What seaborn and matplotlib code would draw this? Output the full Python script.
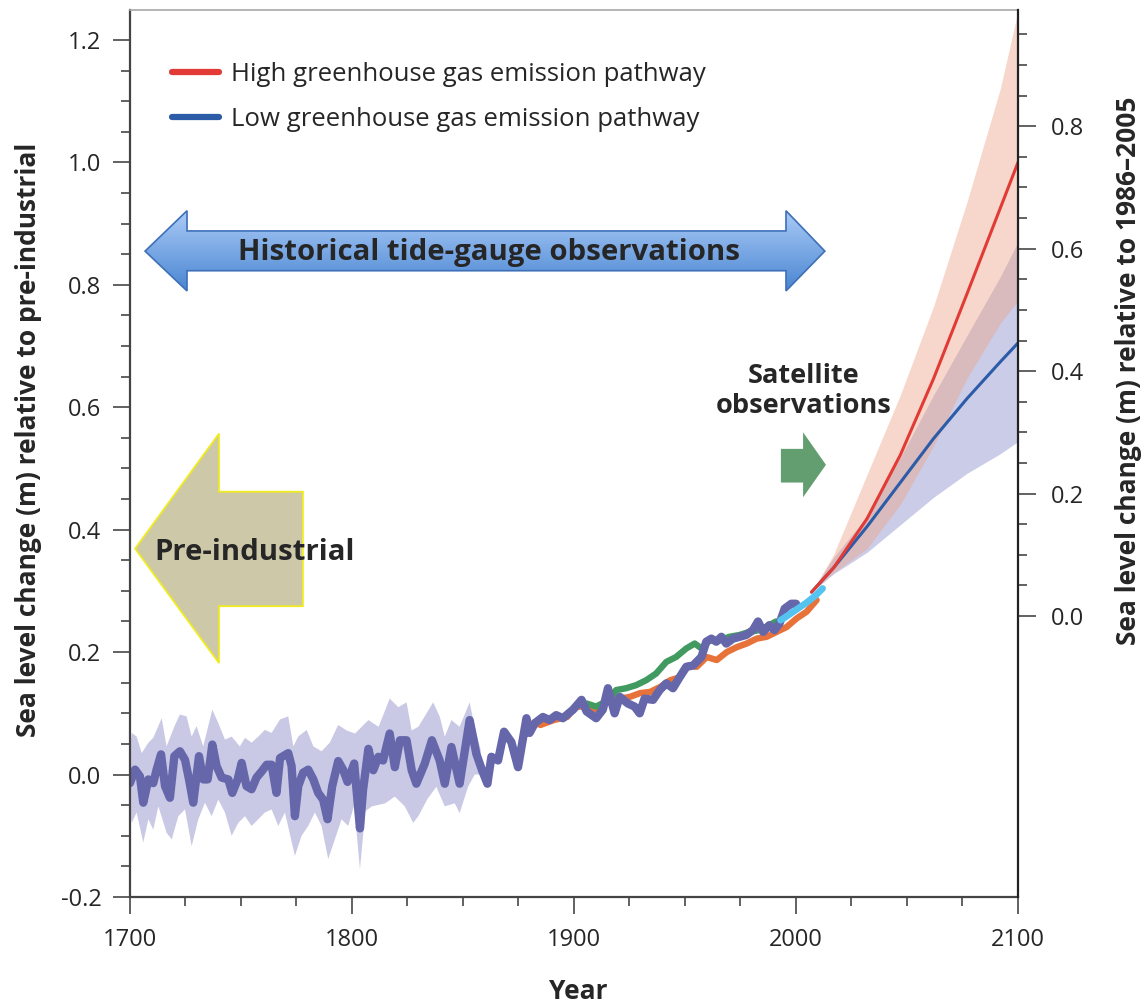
import numpy as np
import matplotlib
matplotlib.use("Agg")
import matplotlib.pyplot as plt
import seaborn as sns
from matplotlib.patches import Polygon
from matplotlib.lines import Line2D
from matplotlib.colors import LinearSegmentedColormap
from matplotlib.ticker import MultipleLocator, FixedLocator

# --- reconstruction (purple) ---
recon_years = [1700.0, 1702.3, 1704.5, 1706.0, 1708.3, 1710.5, 1712.0, 1714.0, 1715.8, 1718.0,
               1720.0, 1722.5, 1724.8, 1726.6, 1728.5, 1731.1, 1733.0, 1735.0, 1737.1, 1739.0,
               1741.3, 1744.3, 1746.1, 1748.5, 1750.3, 1752.5, 1754.8, 1757.0, 1759.3, 1761.6,
               1763.8, 1766.0, 1767.6, 1771.3, 1772.8, 1774.3, 1775.8, 1778.0, 1780.3, 1782.6,
               1784.8, 1787.0, 1789.0, 1791.1, 1793.8, 1796.0, 1798.0, 1801.0, 1803.6, 1805.0,
               1807.4, 1809.6, 1811.9, 1814.0, 1817.0, 1819.3, 1821.6, 1824.6, 1826.9, 1829.0,
               1832.8, 1836.0, 1839.5, 1841.8, 1844.8, 1848.5, 1853.0, 1856.0, 1858.6, 1861.0,
               1862.8, 1865.8, 1868.5, 1871.8, 1874.8, 1878.6, 1880.0, 1882.4, 1886.0, 1889.0,
               1892.0, 1895.0, 1899.6, 1903.4, 1905.7, 1910.0, 1913.0, 1915.3, 1918.3, 1920.6,
               1924.3, 1927.3, 1929.6, 1931.8, 1935.6, 1938.6, 1941.6, 1944.6, 1947.6, 1950.6,
               1953.6, 1957.4, 1959.6, 1961.9, 1964.1, 1966.4, 1968.6, 1971.6, 1974.6, 1977.6,
               1980.6, 1982.9, 1985.2, 1988.0, 1990.3, 1992.6, 1994.9, 1997.9, 2000.0]
recon_vals = [-0.014, 0.008, -0.003, -0.046, -0.008, -0.014, 0.008, 0.033, -0.019, -0.038,
              0.030, 0.038, 0.024, -0.008, -0.046, 0.030, -0.008, -0.008, 0.049, 0.014,
              -0.005, -0.008, -0.030, -0.008, 0.019, -0.019, -0.024, -0.005, 0.005, 0.016,
              0.016, -0.030, 0.027, 0.035, 0.014, -0.068, -0.019, 0.003, 0.008, -0.008,
              -0.030, -0.041, -0.073, -0.019, 0.022, 0.008, -0.012, 0.018, -0.088, -0.025,
              0.042, 0.007, 0.029, 0.023, 0.067, 0.012, 0.056, 0.056, 0.007, -0.015,
              0.018, 0.056, 0.023, -0.015, 0.045, -0.015, 0.089, 0.034, 0.007, -0.015,
              0.029, 0.023, 0.070, 0.053, 0.012, 0.092, 0.068, 0.084, 0.094, 0.089,
              0.097, 0.092, 0.106, 0.122, 0.103, 0.092, 0.106, 0.141, 0.100, 0.127,
              0.116, 0.111, 0.100, 0.124, 0.122, 0.138, 0.149, 0.141, 0.159, 0.176,
              0.178, 0.192, 0.217, 0.222, 0.217, 0.225, 0.214, 0.222, 0.225, 0.228,
              0.236, 0.250, 0.233, 0.244, 0.236, 0.247, 0.271, 0.279, 0.279]

# uncertainty envelope of the reconstruction
band_hi_years = [1700.0, 1700.8, 1703.0, 1705.3, 1708.3, 1710.5, 1714.3, 1716.5, 1720.3, 1722.5,
                 1725.5, 1727.8, 1730.0, 1733.0, 1737.1, 1739.8, 1742.8, 1745.8, 1749.5, 1751.8,
                 1754.8, 1757.8, 1760.8, 1763.8, 1767.6, 1771.3, 1773.6, 1775.8, 1779.6, 1782.6,
                 1786.3, 1790.0, 1793.8, 1797.6, 1801.4, 1807.4, 1812.0, 1817.0, 1820.9, 1824.6,
                 1826.9, 1829.9, 1836.6, 1839.6, 1841.8, 1844.8, 1848.5, 1853.0, 1855.3, 1858.0]
band_hi_vals = [0.040, 0.068, 0.062, 0.035, 0.052, 0.060, 0.092, 0.046, 0.081, 0.098,
                0.095, 0.062, 0.079, 0.046, 0.106, 0.084, 0.057, 0.062, 0.046, 0.060,
                0.052, 0.062, 0.073, 0.068, 0.090, 0.095, 0.046, 0.062, 0.073, 0.046,
                0.038, 0.052, 0.081, 0.072, 0.067, 0.089, 0.078, 0.124, 0.110, 0.118,
                0.072, 0.078, 0.118, 0.094, 0.062, 0.089, 0.078, 0.118, 0.078, 0.040]
band_lo_years = [1700.0, 1700.8, 1703.0, 1706.0, 1708.3, 1710.5, 1712.8, 1716.5, 1718.8, 1721.8,
                 1724.8, 1727.8, 1730.8, 1733.8, 1736.8, 1739.8, 1742.8, 1745.8, 1748.8, 1751.8,
                 1754.8, 1757.8, 1760.8, 1763.8, 1766.8, 1769.8, 1774.3, 1777.3, 1780.3, 1783.3,
                 1786.3, 1789.3, 1792.3, 1795.3, 1798.3, 1801.0, 1803.6, 1806.0, 1809.0, 1815.0,
                 1819.3, 1823.8, 1827.6, 1829.9, 1834.0, 1838.0, 1841.8, 1846.3, 1848.5, 1852.3,
                 1855.3, 1858.0]
band_lo_vals = [-0.060, -0.079, -0.062, -0.111, -0.073, -0.090, -0.052, -0.095, -0.106, -0.068,
                -0.057, -0.117, -0.073, -0.046, -0.068, -0.041, -0.062, -0.100, -0.079, -0.068,
                -0.084, -0.073, -0.062, -0.057, -0.084, -0.062, -0.133, -0.100, -0.084, -0.062,
                -0.084, -0.138, -0.106, -0.073, -0.084, -0.050, -0.155, -0.060, -0.052, -0.047,
                -0.036, -0.052, -0.079, -0.068, -0.040, -0.020, -0.052, -0.047, -0.063, -0.020,
                0.000, 0.000]

# tide-gauge reconstructions (orange, green) and satellite altimetry (cyan)
orange_years = [1882.0, 1884.9, 1890.9, 1896.9, 1900.6, 1905.1, 1908.8, 1911.8, 1916.3, 1920.8,
                1925.3, 1929.8, 1934.3, 1938.8, 1943.3, 1947.8, 1951.6, 1955.3, 1959.8, 1964.3,
                1968.8, 1973.3, 1977.8, 1982.3, 1986.8, 1991.3, 1995.8, 2000.3, 2004.8, 2009.3]
orange_vals = [0.085, 0.081, 0.089, 0.094, 0.111, 0.111, 0.106, 0.108, 0.127, 0.124,
               0.127, 0.133, 0.135, 0.143, 0.154, 0.159, 0.178, 0.176, 0.192, 0.187,
               0.200, 0.208, 0.214, 0.222, 0.225, 0.233, 0.241, 0.255, 0.266, 0.285]
green_years = [1905.7, 1910.0, 1915.3, 1919.0, 1923.5, 1928.0, 1932.5, 1937.0, 1941.6, 1946.0,
               1950.6, 1954.4, 1957.4, 1961.0, 1965.6, 1970.0, 1974.6, 1979.0, 1983.5, 1988.0,
               1991.0]
green_vals = [0.116, 0.111, 0.121, 0.138, 0.141, 0.146, 0.154, 0.165, 0.184, 0.192,
              0.206, 0.214, 0.206, 0.219, 0.219, 0.225, 0.228, 0.233, 0.236, 0.244,
              0.250]
sat_years = [1993.0, 1995.6, 2000.0, 2004.5, 2009.0, 2012.0]
sat_vals = [0.252, 0.258, 0.269, 0.280, 0.293, 0.304]

# projections
proj_years = [2007, 2017, 2032, 2047, 2062, 2077, 2092, 2100]
high_mean = [0.298, 0.338, 0.418, 0.522, 0.647, 0.785, 0.925, 1.000]
high_top = [0.298, 0.360, 0.490, 0.620, 0.765, 0.935, 1.120, 1.247]
high_bot = [0.298, 0.330, 0.369, 0.441, 0.537, 0.647, 0.737, 0.774]
low_mean = [0.298, 0.338, 0.405, 0.477, 0.549, 0.614, 0.674, 0.705]
low_top = [0.298, 0.355, 0.422, 0.518, 0.620, 0.717, 0.813, 0.870]
low_bot = [0.298, 0.328, 0.363, 0.408, 0.453, 0.492, 0.524, 0.544]

OFFSET = 0.259  # pre-industrial minus 1986-2005 baseline

sns.set_style("ticks")
plt.rcParams['font.family'] = ['Open Sans', 'DejaVu Sans']
plt.rcParams['axes.unicode_minus'] = False
BOLD = ['Open Sans', 'DejaVu Sans']
TICK = '#555555'

fig = plt.figure(figsize=(11.46, 10.05), dpi=100)
ax = fig.add_axes([0.1134, 0.1075, 0.7749, 0.8826])

# envelopes
ax.fill(np.r_[band_hi_years, band_lo_years[::-1]], np.r_[band_hi_vals, band_lo_vals[::-1]],
        color='#c9c9e5', lw=0, zorder=1)
ax.fill_between(proj_years, low_bot, low_top, color='#8c91cc', alpha=0.45, lw=0, zorder=1.2)
ax.fill_between(proj_years, high_bot, high_top, color='#eea083', alpha=0.42, lw=0, zorder=1.3)

line_kw = dict(ax=ax, sort=False, estimator=None, legend=False,
               solid_joinstyle='round', solid_capstyle='round')
sns.lineplot(x=orange_years, y=orange_vals, color='#e8733a', linewidth=4.6, zorder=2, **line_kw)
sns.lineplot(x=green_years, y=green_vals, color='#419a5f', linewidth=4.6, zorder=2.1, **line_kw)
sns.lineplot(x=recon_years, y=recon_vals, color='#6667ab', linewidth=6.0, zorder=2.2, **line_kw)
sns.lineplot(x=sat_years, y=sat_vals, color='#55c3ef', linewidth=4.8, zorder=2.3, **line_kw)
sns.lineplot(x=proj_years, y=low_mean, color='#2c5ca8', linewidth=2.2, zorder=3, **line_kw)
sns.lineplot(x=proj_years, y=high_mean, color='#e23b36', linewidth=2.2, zorder=3.1, **line_kw)

ax.set_xlim(1700, 2100)
ax.set_ylim(-0.2, 1.249)
ax.xaxis.set_major_locator(MultipleLocator(100))
ax.xaxis.set_minor_locator(MultipleLocator(25))
ax.yaxis.set_major_locator(MultipleLocator(0.2))
ax.yaxis.set_minor_locator(MultipleLocator(0.05))
ax.yaxis.set_major_formatter(plt.FuncFormatter(lambda v, p: f"{v:.1f}"))
ax.tick_params(which='major', length=12.5, width=1.3, color=TICK, labelsize=17, pad=8)
ax.tick_params(which='minor', length=6.5, width=1.3, color=TICK)
ax.tick_params(axis='x', which='major', pad=10)

for s in ['left', 'bottom']:
    ax.spines[s].set_color('#444444')
    ax.spines[s].set_linewidth(1.6)
ax.spines['top'].set_color('#a8a8a8')
ax.spines['top'].set_linewidth(1.2)
ax.spines['right'].set_visible(False)

ax2 = ax.twinx()
ax2.set_ylim(-0.2 - OFFSET, 1.249 - OFFSET)
ax2.yaxis.set_major_locator(FixedLocator([0.0, 0.2, 0.4, 0.6, 0.8]))
ax2.yaxis.set_minor_locator(FixedLocator(np.arange(0.0, 0.96, 0.05)))
ax2.yaxis.set_major_formatter(plt.FuncFormatter(lambda v, p: f"{v:.1f}"))
ax2.tick_params(which='major', length=13, width=1.3, color=TICK, labelsize=17, pad=11)
ax2.tick_params(which='minor', length=6.5, width=1.3, color=TICK)
for s in ['left', 'top', 'bottom']:
    ax2.spines[s].set_visible(False)
ax2.spines['right'].set_color('#222222')
ax2.spines['right'].set_linewidth(1.6)

ax.set_xlabel('Year', fontsize=19, fontweight='bold', family=BOLD)
ax.xaxis.set_label_coords(0.505, -0.091)
ax.set_ylabel('Sea level change (m) relative to pre-industrial', fontsize=19,
              fontweight='bold', family=BOLD)
ax.yaxis.set_label_coords(-0.099, 0.515)
ax2.set_ylabel('Sea level change (m) relative to 1986\u20132005', fontsize=19,
               fontweight='bold', family=BOLD)
ax2.yaxis.set_label_coords(1.109, 0.593)

# legend
handles = [Line2D([], [], color='#e23b36', lw=4.5), Line2D([], [], color='#2c5ca8', lw=4.5)]
ax.legend(handles, ['High greenhouse gas emission pathway', 'Low greenhouse gas emission pathway'],
          loc='upper left', bbox_to_anchor=(0.047, 0.941), frameon=False, fontsize=18.5,
          handlelength=1.85, handletextpad=0.45, labelspacing=0.76, borderpad=0, borderaxespad=0)

# --- annotation arrows ---
tide_pts = [(1706.8, 0.855), (1725.7, 0.921), (1725.7, 0.888), (1995.5, 0.888), (1995.5, 0.921),
            (2013.0, 0.855), (1995.5, 0.790), (1995.5, 0.823), (1725.7, 0.823), (1725.7, 0.790)]
clip = Polygon(tide_pts, closed=True, transform=ax.transData, facecolor='none', edgecolor='none')
ax.add_patch(clip)
grad = LinearSegmentedColormap.from_list('blu', ['#4a86d2', '#abcbf7'])
im = ax.imshow(np.linspace(0, 1, 64).reshape(-1, 1), cmap=grad, origin='lower', aspect='auto',
               extent=(1706, 2014, 0.79, 0.922), zorder=4)
im.set_clip_path(clip)
ax.add_patch(Polygon(tide_pts, closed=True, facecolor='none', edgecolor='#3e70b8', lw=1.2, zorder=4.1))
ax.text(1861.7, 0.853, 'Historical tide-gauge observations', ha='center', va='center',
        fontsize=21.2, fontweight='bold', family=BOLD, zorder=5)

pre_pts = [(1702.3, 0.369), (1740.1, 0.557), (1740.1, 0.462), (1777.9, 0.462),
           (1777.9, 0.275), (1740.1, 0.275), (1740.1, 0.182)]
ax.add_patch(Polygon(pre_pts, closed=True, facecolor='#cdc8a7', edgecolor='#f0ec20', lw=1.3, zorder=4))
ax.text(1711.0, 0.363, 'Pre-industrial', ha='left', va='center', fontsize=21.2,
        fontweight='bold', family=BOLD, zorder=5)

sat_pts = [(1993.2, 0.532), (2003.2, 0.532), (2003.2, 0.559), (2013.5, 0.506),
           (2003.2, 0.453), (2003.2, 0.477), (1993.2, 0.477)]
ax.add_patch(Polygon(sat_pts, closed=True, facecolor='#629e70', edgecolor='none', zorder=4))
ax.text(2003.6, 0.627, 'Satellite\nobservations', ha='center', va='center', linespacing=1.2,
        fontsize=19.5, fontweight='bold', family=BOLD, zorder=5)

ax.set_xlim(1700, 2100)
ax.set_ylim(-0.2, 1.249)

fig.savefig('out.png', dpi=100)
